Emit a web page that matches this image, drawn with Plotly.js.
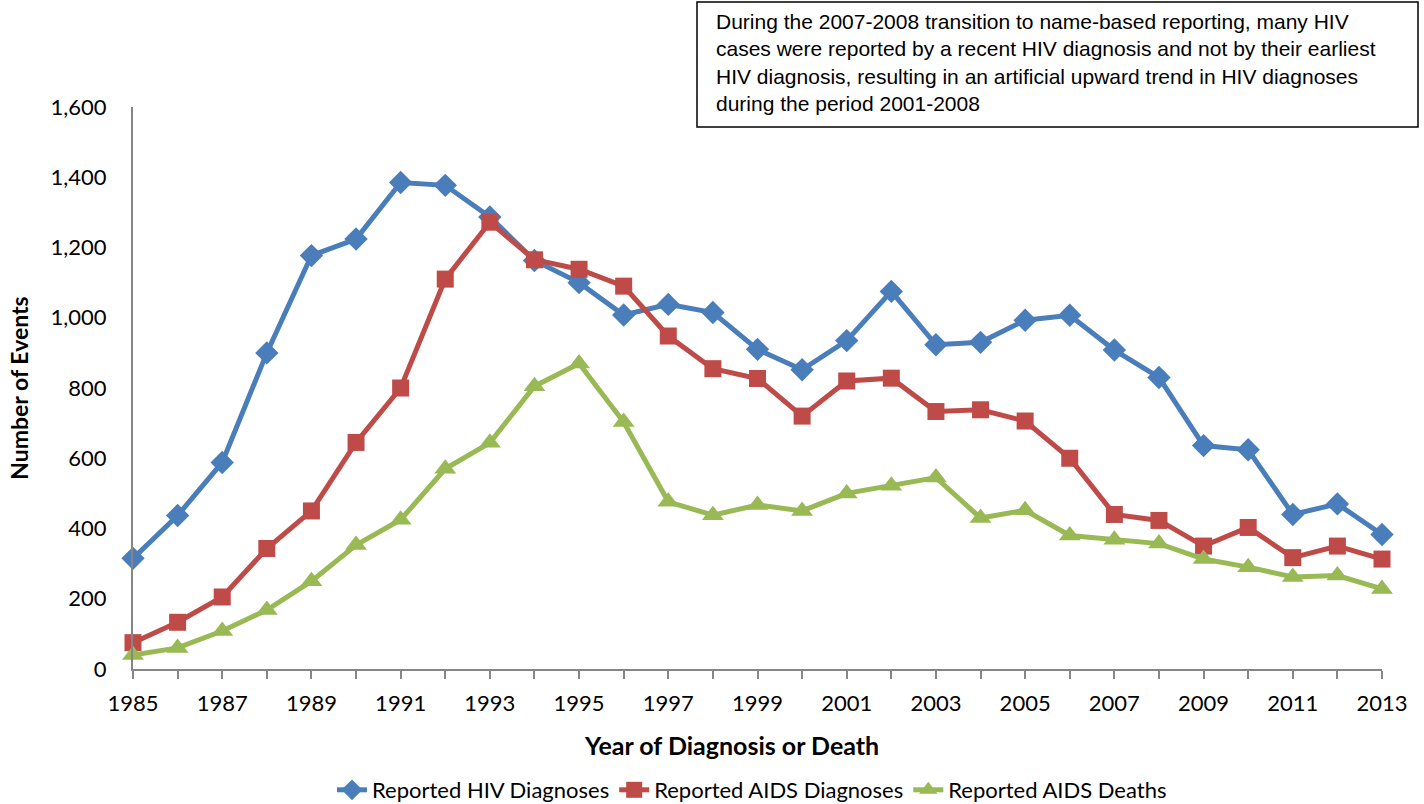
<!DOCTYPE html>
<html>
<head>
<meta charset="utf-8">
<script src="https://cdn.plot.ly/plotly-3.0.1.min.js"></script>
<style>body{margin:0;background:#fff}#chart{width:1424px;height:804px}</style>
</head>
<body>
<div id="chart"></div>
<script>
const years = [1985,1986,1987,1988,1989,1990,1991,1992,1993,1994,1995,1996,1997,1998,1999,2000,2001,2002,2003,2004,2005,2006,2007,2008,2009,2010,2011,2012,2013];
const hivDiagnoses = [315,437,588,900,1177,1224,1385,1377,1287,1163,1100,1008,1038,1015,910,852,935,1075,923,930,993,1007,908,830,636,624,440,470,383];
const aidsDiagnoses = [75,133,205,343,450,645,800,1110,1272,1165,1138,1090,948,855,827,720,820,828,733,738,706,600,440,423,350,403,317,350,313];
const aidsDeaths = [40,60,108,168,250,353,425,570,644,805,870,703,476,438,467,450,500,522,545,430,452,380,368,357,313,290,262,266,228];
const seriesNames = ["Reported HIV Diagnoses","Reported AIDS Diagnoses","Reported AIDS Deaths"];
const labelYears = years.filter((y,i)=>i%2===0);
const xTitle = "Year of Diagnosis or Death";
const yTitle = "Number of Events";
const noteText = "During the 2007-2008 transition to name-based reporting, many HIV<br>cases were reported by a recent HIV diagnosis and not by their earliest<br>HIV diagnosis, resulting in an artificial upward trend in HIV diagnoses<br>during the period 2001-2008";

const font = "Lato, 'Open Sans', sans-serif";
const W = 1424, H = 804;
const L = 133, R = 1382, T = 107, B = 669;
const px = v => (v - L) / (R - L);
const py = v => (B - v) / (B - T);

const traces = [
  {x: years, y: hivDiagnoses, name: seriesNames[0], type:'scatter', mode:'lines+markers',
   line:{color:'#4A7EBB', width:5}, marker:{symbol:'diamond', size:18, color:'#4A7EBB'}, cliponaxis:false},
  {x: years, y: aidsDiagnoses, name: seriesNames[1], type:'scatter', mode:'lines+markers',
   line:{color:'#BE4B48', width:5}, marker:{symbol:'square', size:17, color:'#BE4B48'}, cliponaxis:false},
  {x: years, y: aidsDeaths, name: seriesNames[2], type:'scatter', mode:'lines+markers',
   line:{color:'#98B954', width:5}, marker:{symbol:'triangle-up', size:19, color:'#98B954'}, cliponaxis:false}
];
const layout = {
  width:W, height:H,
  margin:{l:L, r:W-R, t:T, b:H-B},
  paper_bgcolor:'#fff', plot_bgcolor:'#fff',
  font:{family:font, size:22, color:'#000'},
  showlegend:true,
  legend:{orientation:'h', xref:'container', yref:'container', x:752/W, xanchor:'center', y:(H-790)/H, yanchor:'middle',
    font:{size:22}, traceorder:'normal', tracegroupgap:0},
  xaxis:{range:[1985,2013], tickmode:'array', tickvals:labelYears, ticktext:labelYears.map(String),
    showgrid:false, zeroline:false, showline:true, linecolor:'#868686', linewidth:2,
    ticks:'outside', ticklen:8, tickcolor:'#868686', tickwidth:2, ticklabelstandoff:6,
    minor:{dtick:1, tick0:1985, ticks:'outside', ticklen:8, tickcolor:'#868686', tickwidth:2, showgrid:false},
    tickfont:{size:22, family:font}},
  yaxis:{range:[0,1600], dtick:200, tickformat:',d', showgrid:false, zeroline:false,
    showline:true, linecolor:'#868686', linewidth:2, ticks:'', ticklabelstandoff:20,
    tickfont:{size:22, family:font},
    title:{text:'<b>' + yTitle + '</b>', font:{size:23, family:font}, standoff:16}},
  shapes:[{type:'rect', xref:'paper', yref:'paper', x0:px(697), x1:px(1418), y0:py(127), y1:py(2),
    line:{color:'#000', width:1.5}, fillcolor:'rgba(0,0,0,0)'}],
  annotations:[
    {xref:'paper', yref:'paper', x:px(714), y:py(8), xanchor:'left', yanchor:'top',
     text:noteText, showarrow:false, align:'left',
     font:{family:'Liberation Sans, Arial, sans-serif', size:21, color:'#000'}},
    {xref:'paper', yref:'paper', x:px(731), y:py(745), xanchor:'center', yanchor:'middle',
     text:'<b>' + xTitle + '</b>', showarrow:false,
     font:{family:font, size:25, color:'#000'}}
  ]
};
Plotly.newPlot('chart', traces, layout, {displayModeBar:false, staticPlot:true});
</script>
</body>
</html>
